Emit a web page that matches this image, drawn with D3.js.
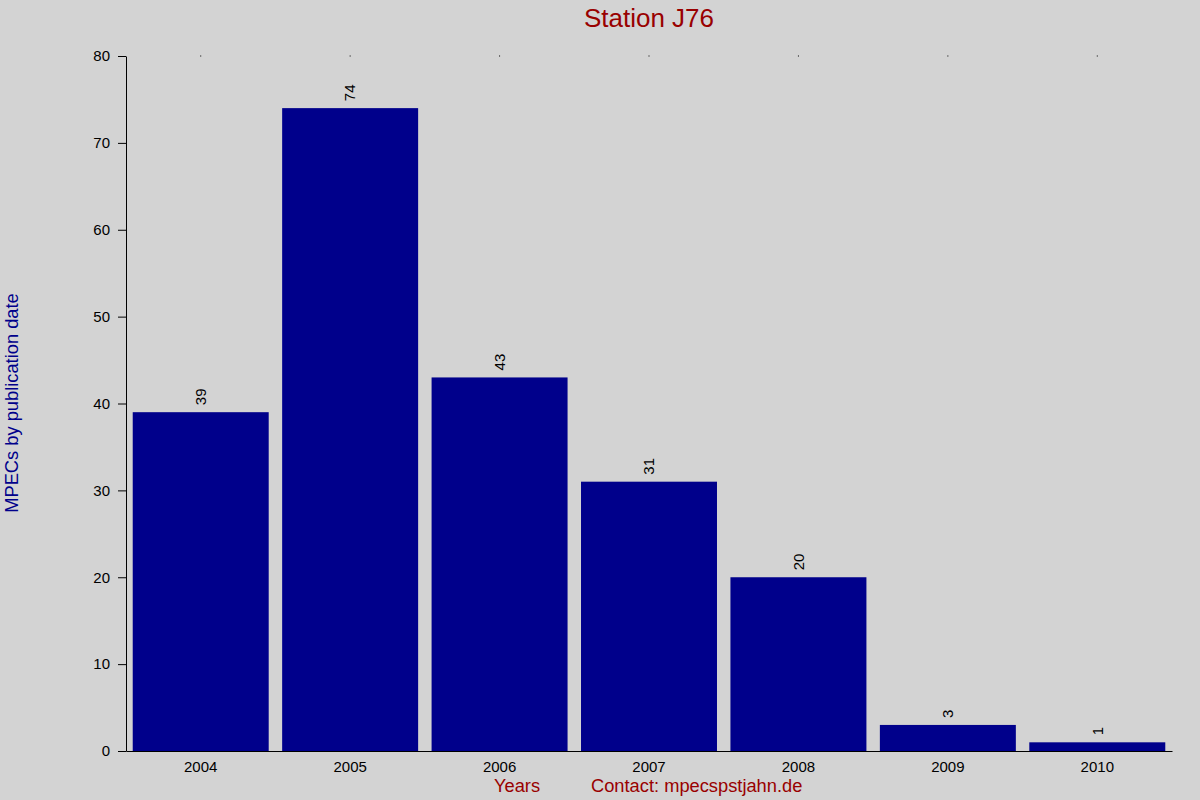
<!DOCTYPE html>
<html>
<head>
<meta charset="utf-8">
<script src="https://cdn.jsdelivr.net/npm/d3@7"></script>
<style>
  body { margin: 0; background: #d3d3d3; }
  svg { display: block; font-family: "Liberation Sans", Arial, sans-serif; }
</style>
</head>
<body>
<svg id="chart" width="1200" height="800"></svg>
<script>
// Data
const years = ["2004", "2005", "2006", "2007", "2008", "2009", "2010"];
const counts = [39, 74, 43, 31, 20, 3, 1];
const yTicks = [0, 10, 20, 30, 40, 50, 60, 70, 80];

const svg = d3.select("#chart"),
      margin = {top: 56, right: 28, bottom: 49, left: 126},
      width = +svg.attr("width") - margin.left - margin.right,
      height = +svg.attr("height") - margin.top - margin.bottom;

svg.append("rect")
  .attr("width", 1200).attr("height", 800)
  .attr("fill", "#d3d3d3");

const data = years.map((y, i) => ({year: y, value: counts[i]}));

const x = d3.scaleBand()
  .domain(years)
  .range([0, width])
  .paddingInner(0.09)
  .paddingOuter(0.045);

const y = d3.scaleLinear()
  .domain([0, 80])
  .range([height, 0]);

const g = svg.append("g")
  .attr("transform", `translate(${margin.left}, ${margin.top})`);

// bars
g.selectAll("rect.bar")
  .data(data)
  .enter()
  .append("rect")
  .attr("class", "bar")
  .attr("x", d => x(d.year))
  .attr("y", d => y(d.value))
  .attr("width", x.bandwidth())
  .attr("height", d => height - y(d.value))
  .attr("fill", "#00008b");

// x axis (no ticks, just the line and labels)
const xAxis = g.append("g")
  .attr("transform", `translate(0, ${height})`)
  .call(d3.axisBottom(x).tickSize(0).tickPadding(10));
xAxis.selectAll("text")
  .attr("fill", "#000")
  .style("font-size", "15px");
xAxis.select(".domain").attr("stroke", "#000");

// y axis
const yAxis = g.append("g")
  .call(d3.axisLeft(y).tickValues(yTicks).tickSizeOuter(0).tickSizeInner(8).tickPadding(8));
yAxis.selectAll("text")
  .attr("fill", "#000")
  .style("font-size", "15px");
yAxis.selectAll("line, .domain").attr("stroke", "#000");

// small marks along the top edge at each category
g.selectAll("rect.topmark")
  .data(years)
  .enter()
  .append("rect")
  .attr("class", "topmark")
  .attr("x", d => x(d) + x.bandwidth() / 2 - 0.5)
  .attr("y", y(80) - 0.5)
  .attr("width", 1)
  .attr("height", 1)
  .attr("fill", "#000");

// value labels, rotated
g.selectAll("text.value")
  .data(data)
  .enter()
  .append("text")
  .attr("class", "value")
  .attr("transform", d => `translate(${x(d.year) + x.bandwidth() / 2}, ${y(d.value) - 7}) rotate(-90)`)
  .attr("dy", "0.35em")
  .attr("text-anchor", "start")
  .attr("fill", "#000")
  .style("font-size", "15px")
  .text(d => d.value);

// title
svg.append("text")
  .attr("x", 649)
  .attr("y", 27)
  .attr("text-anchor", "middle")
  .attr("fill", "#990000")
  .style("font-size", "26px")
  .text("Station J76");

// y label
svg.append("text")
  .attr("transform", "translate(18, 403) rotate(-90)")
  .attr("text-anchor", "middle")
  .attr("fill", "#00008b")
  .style("font-size", "18.3px")
  .text("MPECs by publication date");

// bottom labels
svg.append("text")
  .attr("x", 517)
  .attr("y", 792)
  .attr("text-anchor", "middle")
  .attr("fill", "#990000")
  .style("font-size", "18.3px")
  .text("Years");

svg.append("text")
  .attr("x", 591)
  .attr("y", 792)
  .attr("text-anchor", "start")
  .attr("fill", "#990000")
  .style("font-size", "18.3px")
  .text("Contact: mpecspstjahn.de");
</script>
</body>
</html>
